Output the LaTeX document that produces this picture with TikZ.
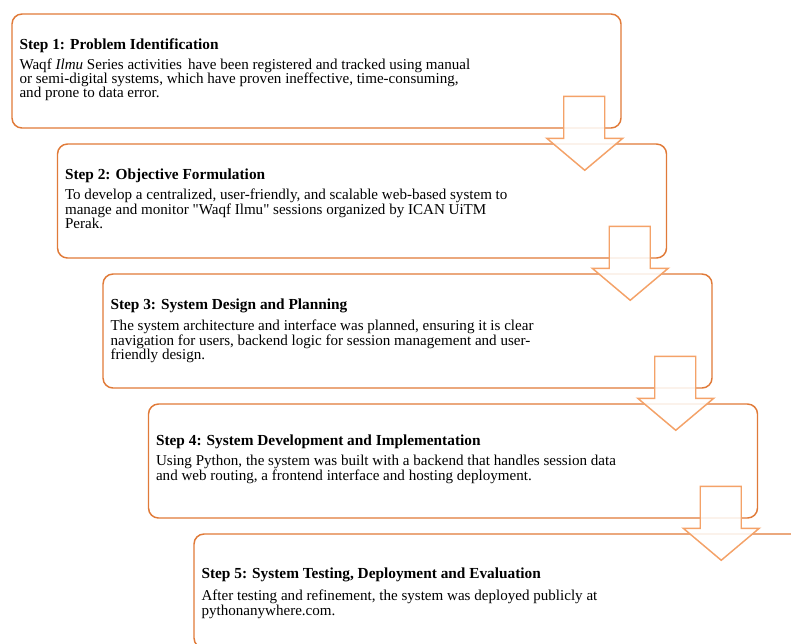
\documentclass[tikz,border=0pt]{standalone}
\usepackage{fontspec}
\setmainfont{Liberation Serif}[Ligatures=TeXOff]
\usetikzlibrary{calc}
\definecolor{boxorange}{RGB}{224,122,56}
\definecolor{arroworange}{RGB}{244,162,104}
\tikzset{
  stepbox/.style={draw=boxorange, line width=1.1pt, rounded corners=7.5pt,
    minimum width=456.75pt, minimum height=85.5pt, inner sep=0pt},
  steptitle/.style={anchor=base west, inner sep=0pt,
    font=\fontsize{11.5}{10.5}\selectfont\bfseries},
  stepbody/.style={anchor=base west, inner sep=0pt},
  blockarrow/.style={draw=arroworange, line width=1.1pt, fill=white,
    fill opacity=0.85, line join=miter}
}
\newcommand{\bodytext}[1]{\parbox[t]{420pt}{\fontsize{11.3}{10.7}\selectfont\lineskiplimit=-20pt\raggedright #1}}
\newcommand{\blockarrowfrom}[1]{%
  \draw[blockarrow, shift={(#1.north east)}]
    (-58,83) -- (-17,83) -- (-17,125) -- (1,125) -- (-37,157)
    -- (-75,125) -- (-58,125) -- cycle;}
\begin{document}
\begin{tikzpicture}[x=0.75pt,y=-0.75pt]
\useasboundingbox (0,0) rectangle (791,643);
\clip (0,0) rectangle (791,643);
% boxes
\node[stepbox] (b1) at (316.5,71) {};
\node[stepbox] (b2) at (362,201) {};
\node[stepbox] (b3) at (407.5,331) {};
\node[stepbox] (b4) at (453,461) {};
\node[stepbox] (b5) at (498.5,591) {};
% arrows
\blockarrowfrom{b1}
\blockarrowfrom{b2}
\blockarrowfrom{b3}
\blockarrowfrom{b4}
% texts
\node[steptitle] (t1) at ($(b1.north west)+(8,36)$) {Step 1: Problem Identification};
\node[stepbody] (d1) at ($(b1.north west)+(8,56)$) {\bodytext{Waqf \textit{Ilmu} Series activities\, have been registered and tracked using manual\\
or semi-digital systems, which have proven ineffective, time-consuming,\\
and prone to data error.}};
\node[steptitle] (t2) at ($(b2.north west)+(8,36)$) {Step 2: Objective Formulation};
\node[stepbody] (d2) at ($(b2.north west)+(8,56.5)$) {\bodytext{To develop a centralized, user-friendly, and scalable web-based system to\\
manage and monitor "Waqf Ilmu" sessions organized by ICAN UiTM\\
Perak.}};
\node[steptitle] (t3) at ($(b3.north west)+(8,36.5)$) {Step 3: System Design and Planning};
\node[stepbody] (d3) at ($(b3.north west)+(8,57.5)$) {\bodytext{The system architecture and interface was planned, ensuring it is clear\\
navigation for users, backend logic for session management and user-\\
friendly design.}};
\node[steptitle] (t4) at ($(b4.north west)+(8,42.5)$) {Step 4: System Development and Implementation};
\node[stepbody] (d4) at ($(b4.north west)+(8,62.5)$) {\bodytext{Using Python, the system was built with a backend that handles session data\\
and web routing, a frontend interface and hosting deployment.}};
\node[steptitle] (t5) at ($(b5.north west)+(8,45.5)$) {Step 5: System Testing, Deployment and Evaluation};
\node[stepbody] (d5) at ($(b5.north west)+(8,67.5)$) {\bodytext{After testing and refinement, the system was deployed publicly at\\
pythonanywhere.com.}};
\end{tikzpicture}
\end{document}
